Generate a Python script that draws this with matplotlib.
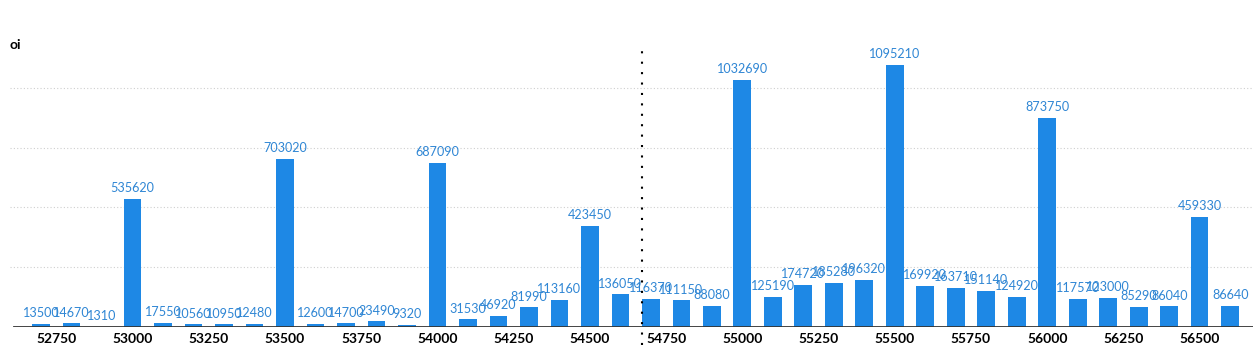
import matplotlib
matplotlib.use("Agg")
import matplotlib.pyplot as plt
import numpy as np

plt.rcParams['font.family'] = ['Lato', 'DejaVu Sans']

strikes = list(range(52700, 56700, 100))
oi = [13500, 14670, 1310, 535620, 17550, 10560, 10950, 12480, 703020, 12600,
      14700, 23490, 9320, 687090, 31530, 46920, 81990, 113160, 423450, 136050,
      116370, 111150, 88080, 1032690, 125190, 174720, 185280, 196320, 1095210, 169920,
      163710, 151140, 124920, 873750, 117570, 123000, 85290, 86040, 459330, 86640]
xticks = [52750, 53000, 53250, 53500, 53750, 54000, 54250, 54500,
          54750, 55000, 55250, 55500, 55750, 56000, 56250, 56500]
spot = 54670

fig = plt.figure(figsize=(12.53, 3.51), dpi=100)
ax = fig.add_axes([10 / 1253, 24 / 351, 1 - 10 / 1253, (327 - 28) / 351])

ax.bar(strikes, oi, width=58, color='#1e88e5', zorder=3)
for x, v in zip(strikes, oi):
    ax.annotate(str(v), (x, v), xytext=(0, 3.5), textcoords='offset points',
                ha='center', va='bottom', fontsize=9.1, color='#2f86d4', zorder=4)

ax.set_xlim(52598, 56675)
ax.set_ylim(0, 1250000)
for g in [250000, 500000, 750000, 1000000]:
    ax.axhline(g, color='#cfcfcf', lw=0.8, ls=(0, (1, 2)), zorder=1)
ax.axhline(0, xmin=4 / 1243, color='#333333', lw=2, zorder=5)

ax.axvline(spot, ymin=-0.06, ymax=(327 - 50) / 299, color='black', lw=1.5,
           ls=(0, (1, 4)), clip_on=False, zorder=6)

ax.set_xticks(xticks)
ax.set_xticklabels([str(t) for t in xticks], fontsize=10, fontweight='bold')
ax.tick_params(axis='x', length=0, pad=4)
ax.set_yticks([])
for s in ax.spines.values():
    s.set_visible(False)

fig.text(10 / 1253, 1 - 45 / 351, 'oi', fontsize=10, fontweight='bold',
         va='center', ha='left')

fig.savefig('out.png', dpi=100)
